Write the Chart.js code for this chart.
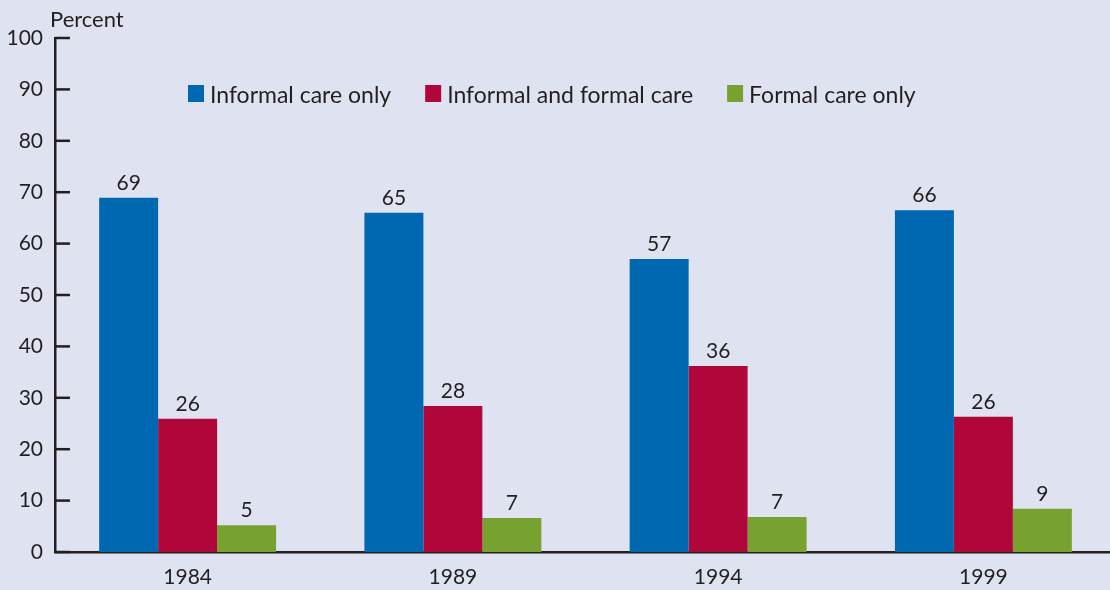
<!DOCTYPE html>
<html>
<head>
<meta charset="utf-8">
<script src="https://cdn.jsdelivr.net/npm/chart.js@4.4.1/dist/chart.umd.min.js"></script>
<style>
html,body{margin:0;padding:0;background:#dfe3f1;overflow:hidden;}
#wrap{position:absolute;left:0;top:0;width:1116px;height:590px;}
</style>
</head>
<body>
<div id="wrap"><canvas id="chart"></canvas></div>
<script>
// data
const years = ['1984','1989','1994','1999'];
const informalOnly = [68.9, 66.0, 57.0, 66.5];
const informalFormal = [25.9, 28.4, 36.2, 26.3];
const formalOnly = [5.2, 6.6, 6.8, 8.4];
const informalOnlyLabels = ['69','65','57','66'];
const informalFormalLabels = ['26','28','36','26'];
const formalOnlyLabels = ['5','7','7','9'];
const yTicks = [0,10,20,30,40,50,60,70,80,90,100];

const FONT = 'Lato, "Open Sans", sans-serif';
const INK = '#231f20';

// value labels above bars
const barLabels = {
  id:'barLabels',
  afterDatasetsDraw(chart){
    const ctx = chart.ctx;
    ctx.save();
    ctx.font = '21px ' + FONT;
    ctx.fillStyle = INK;
    ctx.textAlign = 'center';
    ctx.textBaseline = 'alphabetic';
    chart.data.datasets.forEach((ds,i)=>{
      chart.getDatasetMeta(i).data.forEach((bar,j)=>{
        ctx.fillText(ds.valueLabels[j], bar.x, bar.y - 8);
      });
    });
    ctx.restore();
  }
};

// y ticks point into the plot, plus title and in-plot legend
const decor = {
  id:'decor',
  afterDraw(chart){
    const ctx = chart.ctx, y = chart.scales.y, area = chart.chartArea;
    ctx.save();
    ctx.strokeStyle = INK; ctx.lineWidth = 2.5;
    yTicks.forEach(v=>{
      const py = y.getPixelForValue(v);
      ctx.beginPath(); ctx.moveTo(area.left, py); ctx.lineTo(area.left + 15, py); ctx.stroke();
    });
    ctx.font = '22px ' + FONT;
    ctx.fillStyle = INK;
    ctx.textBaseline = 'alphabetic';
    ctx.textAlign = 'left';
    ctx.fillText('Percent', 50, 27);

    // legend
    ctx.font = '23px ' + FONT;
    let x = 188;
    chart.data.datasets.forEach(ds=>{
      ctx.fillStyle = ds.backgroundColor;
      ctx.fillRect(x, 85, 16, 17);
      ctx.fillStyle = INK;
      ctx.fillText(ds.label, x + 22, 103);
      x += 22 + ctx.measureText(ds.label).width + 34;
    });
    ctx.restore();
  }
};

new Chart(document.getElementById('chart').getContext('2d'), {
  type:'bar',
  data:{
    labels: years,
    datasets:[
      {label:'Informal care only', data:informalOnly, valueLabels:informalOnlyLabels, backgroundColor:'#0067b1'},
      {label:'Informal and formal care', data:informalFormal, valueLabels:informalFormalLabels, backgroundColor:'#b1063a'},
      {label:'Formal care only', data:formalOnly, valueLabels:formalOnlyLabels, backgroundColor:'#78a22f'}
    ]
  },
  options:{
    responsive:true, maintainAspectRatio:false, animation:false,
    layout:{padding:{top:38, right:0, left:0, bottom:0}},
    datasets:{bar:{categoryPercentage:0.667, barPercentage:1.0}},
    plugins:{legend:{display:false}, tooltip:{enabled:false}},
    scales:{
      x:{
        grid:{display:false, drawTicks:false},
        border:{display:true, color:INK, width:2.5},
        ticks:{color:INK, font:{family:FONT, size:21}, padding:13},
        afterFit(s){ s.height = 38; }
      },
      y:{
        min:0, max:100,
        afterBuildTicks(s){ s.ticks = yTicks.map(v=>({value:v})); },
        grid:{display:false, drawTicks:false},
        border:{display:true, color:INK, width:2.5},
        ticks:{color:INK, font:{family:FONT, size:21}, padding:12},
        afterFit(s){ s.width = 55; }
      }
    }
  },
  plugins:[barLabels, decor]
});
</script>
</body>
</html>
